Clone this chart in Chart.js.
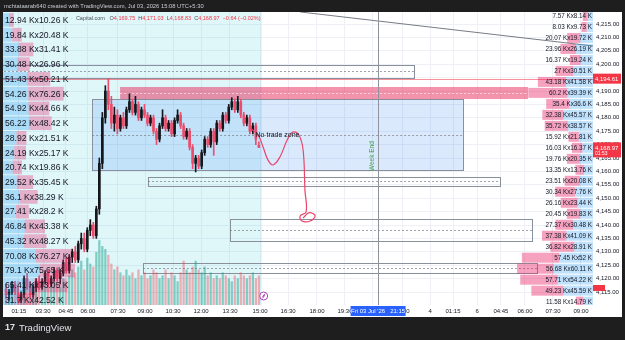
<!DOCTYPE html>
<html lang="en">
<head>
<meta charset="UTF-8">
<title>XAUUSD 5m - Capital.com</title>
<style>
  html, body { margin: 0; padding: 0; background: #1e1e1e; }
  canvas { display: block; }
</style>
</head>
<body>
<canvas id="myChart" width="625" height="340"></canvas>
<script src="https://cdn.jsdelivr.net/npm/chart.js"></script>
<script>
// ---- candles, one slot per candle on the x scale ----
const opens = [
  4116, 4114, 4115, 4118, 4115, 4112, 4114, 4120, 4117, 4114,
  4117, 4119, 4117, 4119, 4122, 4118, 4120, 4123, 4120, 4122,
  4126, 4123, 4128, 4130, 4127, 4133, 4135, 4131, 4138, 4140,
  4136, 4146, 4163, 4180, 4190, 4185, 4178, 4181, 4176, 4180,
  4177, 4183, 4186, 4182, 4185, 4180, 4183, 4181, 4178, 4180,
  4175, 4172, 4177, 4180, 4176, 4178, 4174, 4179, 4181, 4177,
  4173, 4175, 4169, 4163, 4165, 4162, 4167, 4172, 4170, 4175,
  4171, 4178, 4176, 4181, 4179, 4184, 4186, 4183, 4186, 4181,
  4178, 4180, 4175, 4177, 4169.75
];
const highs = [
  4118, 4116, 4119, 4119, 4117, 4115, 4121, 4122, 4119, 4118,
  4120, 4121, 4120, 4123, 4123, 4121, 4124, 4124, 4123, 4127,
  4128, 4129, 4131, 4132, 4134, 4137, 4137, 4139, 4142, 4141,
  4147, 4165, 4182, 4192, 4194.61, 4188, 4184, 4183, 4181, 4182,
  4184, 4189, 4187, 4188, 4186, 4184, 4185, 4182, 4181, 4181,
  4176, 4178, 4183, 4181, 4179, 4179, 4180, 4183, 4182, 4178,
  4176, 4176, 4170, 4166, 4166, 4168, 4173, 4173, 4176, 4176,
  4179, 4179, 4182, 4182, 4185, 4187.5, 4187, 4188, 4187, 4182,
  4181, 4181, 4178, 4178, 4171.03
];
const lows = [
  4113, 4112, 4114, 4114, 4111, 4111, 4113, 4116, 4113, 4113,
  4115, 4116, 4116, 4118, 4117, 4117, 4119, 4119, 4118, 4121,
  4122, 4122, 4126, 4126, 4126, 4131, 4130, 4130, 4136, 4135,
  4135, 4144, 4161, 4178, 4183, 4176, 4175, 4174, 4175, 4176,
  4176, 4182, 4181, 4181, 4179, 4179, 4180, 4177, 4177, 4174,
  4170, 4171, 4176, 4175, 4175, 4173, 4173, 4178, 4176, 4172,
  4172, 4168, 4161, 4159.8, 4161, 4161, 4166, 4169, 4169, 4166,
  4170, 4175, 4175, 4178, 4178, 4183, 4182, 4182, 4180, 4177,
  4177, 4174, 4174, 4170, 4168.83
];
const closes = [
  4114, 4115, 4118, 4115, 4112, 4114, 4120, 4117, 4114, 4117,
  4119, 4117, 4119, 4122, 4118, 4120, 4123, 4120, 4122, 4126,
  4123, 4128, 4130, 4127, 4133, 4135, 4131, 4138, 4140, 4136,
  4146, 4163, 4180, 4190, 4185, 4178, 4181, 4176, 4180, 4177,
  4183, 4186, 4182, 4185, 4180, 4183, 4181, 4178, 4180, 4175,
  4172, 4177, 4180, 4176, 4178, 4174, 4179, 4181, 4177, 4173,
  4175, 4169, 4163, 4165, 4162, 4167, 4172, 4170, 4175, 4171,
  4178, 4176, 4181, 4179, 4184, 4186, 4183, 4186, 4181, 4178,
  4180, 4175, 4177, 4172, 4168.97
];
const volumes = [
  6, 5, 7, 6, 8, 5, 9, 7, 6, 5,
  7, 6, 8, 7, 6, 9, 8, 7, 6, 9,
  8, 10, 12, 11, 13, 15, 12, 16, 14, 13,
  18, 22, 20, 19, 17, 14, 12, 13, 11, 10,
  12, 10, 11, 9, 12, 10, 11, 9, 10, 12,
  11, 9, 10, 12, 9, 11, 10, 8, 11, 15,
  12, 11, 13, 15, 12, 11, 13, 10, 11, 9,
  10, 9, 11, 10, 9, 8, 10, 9, 11, 10,
  9, 10, 11, 9, 10
];

// ---- axes ----
const timeTicks  = [5.3, 13.3, 20.9, 28.2, 38.2, 47.2, 56.5, 65.8, 75.4, 85.4, 94.7, 104.3, 113.6, 122.9, 132.6, 141.9, 149.5, 157.5, 165.4, 173.4, 182.7, 192.0];
const timeLabels = ['01:15', '03:30', '04:45', '06:00', '07:30', '09:00', '10:30', '12:00', '13:30', '15:00', '16:30', '18:00', '19:30', '21:00', '22:30', '4', '01:15', '6', '04:45', '06:00', '07:30', '09:00'];
const priceMin = 4110.15;
const priceMax = 4219.48;
const highPrice = 4194.61;
const lastPrice = 4168.97;

// ---- volume profiles (K) ----
const leftUp   = [12.94, 19.84, 33.88, 30.48, 51.43, 54.26, 54.92, 56.22, 28.92, 24.19, 20.74, 29.52, 36.1, 27.41, 46.84, 45.32, 70.08, 79.1, 65.41, 31.7];
const leftDown = [10.26, 20.48, 31.41, 26.96, 50.21, 76.26, 44.66, 48.42, 21.51, 25.17, 19.86, 35.45, 38.29, 28.2, 43.38, 48.27, 76.27, 75.65, 73.05, 42.52];
const leftTop = 4216.5, leftStep = 5.5;
const rightUp   = [7.57, 8.03, 20.07, 23.96, 16.37, 27, 43.18, 60.2, 35.4, 32.38, 35.72, 15.92, 16.03, 19.76, 13.35, 23.51, 30.34, 26.16, 20.45, 27.37, 37.38, 36.82, 57.45, 56.68, 57.71, 49.23, 11.58];
const rightDown = [8.14, 9.73, 19.72, 26.19, 19.24, 30.51, 41.58, 39.39, 36.6, 45.57, 38.57, 21.81, 16.37, 20.35, 13.76, 20.08, 27.76, 23.44, 19.83, 30.48, 41.09, 28.91, 52, 60.11, 54.22, 45.59, 14.79];
const rightTop = 4218.0, rightStep = 4.1;

// ---- drawings: [startSlot, endSlot, topPrice, bottomPrice] ----
const noTradeZone = [29.6, 152.8, 4187.0, 4160.5];
const supplyZone  = [38.9, 174.4, 4191.5, 4187.0];
const levelBoxes = [
  [-5, 136.5, 4199.7, 4194.9],
  [48.2, 165.1, 4157.9, 4154.6],
  [75.4, 175.7, 4142.2, 4134.0],
  [46.5, 177.4, 4125.8, 4122.1]
];
const trendX = [98.7, 196];
const trendY = [4219.5, 4206.8];
const pathX = [82.1, 84.7, 86.4, 88.0, 89.7, 92.0, 94.4, 96.3, 98.3, 99.7, 100.3, 100.7, 98.7, 99.3, 102.0, 103.7, 101.7, 99.7];
const pathY = [4176.2, 4173.6, 4169.1, 4164.3, 4162.4, 4165.4, 4171.7, 4174.7, 4173.6, 4168.0, 4153.1, 4144.9, 4143.4, 4141.5, 4141.5, 4143.4, 4144.6, 4142.6];
const sessionEndSlot = 86;
const weekEndSlot = 124.6;

const FONT = '"Liberation Sans", Arial, sans-serif';
const fmt = v => v.toLocaleString('en-US', { minimumFractionDigits: 2, maximumFractionDigits: 2 });

const slots = opens.map((_, i) => i + 1);
const candleColors = opens.map((o, i) => closes[i] >= o ? '#16171c' : '#ec4d6c');
const volumeColors = opens.map((o, i) => closes[i] >= o ? 'rgba(8,153,129,0.45)' : 'rgba(242,54,69,0.38)');

function drawBox(ctx, X, Y, b, fill, stroke) {
  const x1 = X(b[0]), x2 = X(b[1]), y1 = Y(b[2]), y2 = Y(b[3]);
  ctx.fillStyle = fill;
  ctx.fillRect(x1, y1, x2 - x1, y2 - y1);
  if (stroke) {
    ctx.strokeStyle = stroke;
    ctx.lineWidth = 1;
    ctx.strokeRect(Math.round(x1) + 0.5, Math.round(y1) + 0.5, Math.round(x2 - x1), Math.round(y2 - y1));
  }
  const ym = Math.round((y1 + y2) / 2) + 0.5;
  ctx.save();
  ctx.setLineDash([2, 2]);
  ctx.strokeStyle = stroke ? 'rgba(120,123,134,0.7)' : 'rgba(255,255,255,0.6)';
  ctx.beginPath(); ctx.moveTo(x1, ym); ctx.lineTo(x2, ym); ctx.stroke();
  ctx.restore();
}

const overlay = {
  id: 'overlay',
  beforeDraw(chart) {
    const ctx = chart.ctx;
    ctx.save();
    ctx.fillStyle = '#1e1e1e';
    ctx.fillRect(0, 0, chart.width, chart.height);
    ctx.fillStyle = '#ffffff';
    ctx.fillRect(3, 12, 619, 305);
    ctx.restore();
  },
  beforeDatasetsDraw(chart) {
    const { ctx, chartArea: a } = chart;
    const X = v => chart.scales.x.getPixelForValue(v);
    const Y = v => chart.scales.y.getPixelForValue(v);
    ctx.save();
    ctx.beginPath(); ctx.rect(a.left, a.top, a.right - a.left, a.bottom - a.top); ctx.clip();
    // session highlight
    ctx.fillStyle = 'rgba(0,188,212,0.12)';
    ctx.fillRect(a.left, a.top, X(sessionEndSlot) - a.left, a.bottom - a.top);
    drawBox(ctx, X, Y, noTradeZone, 'rgba(33,120,243,0.16)', '#8a8f9c');
    drawBox(ctx, X, Y, supplyZone, 'rgba(232,40,90,0.5)', null);
    levelBoxes.forEach(b => drawBox(ctx, X, Y, b, 'rgba(255,255,255,0)', '#8a8f9c'));
    ctx.restore();
  },
  afterDatasetsDraw(chart) {
    const { ctx, chartArea: a } = chart;
    const X = v => chart.scales.x.getPixelForValue(v);
    const Y = v => chart.scales.y.getPixelForValue(v);
    ctx.save();
    ctx.beginPath(); ctx.rect(a.left, a.top, a.right - a.left, a.bottom - a.top); ctx.clip();

    // high price line
    const yh = Math.round(Y(highPrice)) + 0.5;
    ctx.strokeStyle = 'rgba(242,54,69,0.55)';
    ctx.lineWidth = 1;
    ctx.beginPath(); ctx.moveTo(a.left, yh); ctx.lineTo(a.right, yh); ctx.stroke();

    // week end line + label
    const xw = Math.round(X(weekEndSlot)) + 0.5;
    ctx.strokeStyle = '#8f939e';
    ctx.beginPath(); ctx.moveTo(xw, a.top); ctx.lineTo(xw, a.bottom + 1); ctx.stroke();
    ctx.save();
    ctx.translate(xw - 3, Y(4165.7));
    ctx.rotate(-Math.PI / 2);
    ctx.fillStyle = '#43a047';
    ctx.font = '6.5px ' + FONT;
    ctx.textAlign = 'center'; ctx.textBaseline = 'bottom';
    ctx.fillText('Week End', 0, 0);
    ctx.restore();

    // no trade zone label
    ctx.fillStyle = '#131722';
    ctx.font = '7px ' + FONT;
    ctx.textAlign = 'center'; ctx.textBaseline = 'middle';
    ctx.fillText('No trade zone', X((noTradeZone[0] + noTradeZone[1]) / 2), Y((noTradeZone[2] + noTradeZone[3]) / 2) + 0.5);

    // left volume profile
    const rowL = Y(leftTop) - Y(leftTop + leftStep);
    const kL = 0.465;
    ctx.textAlign = 'left';
    leftUp.forEach((u, i) => {
      const yc = Y(leftTop - i * leftStep);
      const wu = u * kL, wd = leftDown[i] * kL;
      ctx.fillStyle = 'rgba(33,150,243,0.28)';
      ctx.fillRect(a.left, yc - rowL / 2 + 0.5, wu, rowL - 1);
      ctx.fillStyle = 'rgba(233,30,99,0.32)';
      ctx.fillRect(a.left + wu, yc - rowL / 2 + 0.5, wd, rowL - 1);
    });
    ctx.fillStyle = '#131722';
    ctx.font = '8.6px ' + FONT;
    leftUp.forEach((u, i) => {
      ctx.fillText(u + ' Kx' + leftDown[i] + ' K', a.left + 2, Y(leftTop - i * leftStep) + 0.5);
    });

    // right volume profile
    const rowR = Y(rightTop) - Y(rightTop + rightStep);
    const kR = 0.65;
    rightUp.forEach((u, i) => {
      const yc = Y(rightTop - i * rightStep);
      const wd = rightDown[i] * kR, wu = u * kR;
      ctx.fillStyle = 'rgba(33,150,243,0.28)';
      ctx.fillRect(a.right - wd, yc - rowR / 2 + 0.5, wd, rowR - 1);
      ctx.fillStyle = 'rgba(233,30,99,0.42)';
      ctx.fillRect(a.right - wd - wu, yc - rowR / 2 + 0.5, wu, rowR - 1);
    });
    ctx.fillStyle = '#131722';
    ctx.font = '6.3px ' + FONT;
    ctx.textAlign = 'right';
    rightUp.forEach((u, i) => {
      ctx.fillText(u + ' Kx' + rightDown[i] + ' K', a.right - 1, Y(rightTop - i * rightStep) + 0.5);
    });

    // event icon under the last candle
    ctx.strokeStyle = '#ab47bc';
    ctx.fillStyle = '#ffffff';
    ctx.lineWidth = 1;
    ctx.beginPath(); ctx.arc(X(86.6), a.bottom - 9, 4, 0, Math.PI * 2); ctx.fill(); ctx.stroke();
    ctx.beginPath(); ctx.moveTo(X(86.6) + 1.5, a.bottom - 11.5); ctx.lineTo(X(86.6) - 1, a.bottom - 8.5);
    ctx.lineTo(X(86.6) + 1, a.bottom - 9.5); ctx.lineTo(X(86.6) - 1.5, a.bottom - 6.5); ctx.stroke();
    ctx.restore();
  },
  afterDraw(chart) {
    const { ctx, chartArea: a } = chart;
    const X = v => chart.scales.x.getPixelForValue(v);
    const Y = v => chart.scales.y.getPixelForValue(v);
    ctx.save();
    ctx.textBaseline = 'middle';

    // price labels on the axis
    ctx.fillStyle = '#f23645';
    ctx.fillRect(a.right, Y(highPrice) - 5, 28, 10);
    ctx.fillRect(a.right, Y(lastPrice) - 5, 28, 15);
    ctx.fillRect(a.right, Y(4116.5) - 3, 12, 6);
    ctx.fillStyle = '#ffffff';
    ctx.font = '6px ' + FONT;
    ctx.textAlign = 'left';
    ctx.fillText(fmt(highPrice), a.right + 2, Y(highPrice) + 0.5);
    ctx.fillText(fmt(lastPrice), a.right + 2, Y(lastPrice) + 0.5);
    ctx.font = '5px ' + FONT;
    ctx.fillText('01:53', a.right + 2, Y(lastPrice) + 6.5);

    // crosshair time label
    const xw = X(weekEndSlot);
    ctx.fillStyle = '#2962ff';
    ctx.fillRect(xw - 27.5, a.bottom + 1, 55, 10);
    ctx.fillStyle = '#ffffff';
    ctx.font = '6px ' + FONT;
    ctx.textAlign = 'center';
    ctx.fillText("Fri 03 Jul '26   21:15", xw, a.bottom + 6.5);

    // header
    ctx.textAlign = 'left';
    ctx.fillStyle = '#c9ccd4';
    ctx.font = '5.8px ' + FONT;
    ctx.fillText('mchtataarab640 created with TradingView.com, Jul 03, 2026 15:08 UTC+5:30', 4, 6);

    // legend
    let lx = 71;
    const ly = 18;
    ctx.font = '5.5px ' + FONT;
    const part = (t, c) => { ctx.fillStyle = c; ctx.fillText(t, lx, ly); lx += ctx.measureText(t).width; };
    part('·  Capital.com   ', '#4a4e59');
    part('O', '#4a4e59'); part('4,169.75  ', '#f23645');
    part('H', '#4a4e59'); part('4,171.03  ', '#f23645');
    part('L', '#4a4e59'); part('4,168.83  ', '#f23645');
    part('C', '#4a4e59'); part('4,168.97  ', '#f23645');
    part('\u22120.64 (\u22120.02%)', '#f23645');

    // footer logo
    ctx.fillStyle = '#e0e3eb';
    ctx.font = 'bold 9px ' + FONT;
    ctx.fillText('17', 5, 328);
    ctx.font = '9.5px ' + FONT;
    ctx.fillText('TradingView', 19, 328);
    ctx.restore();
  }
};

Chart.defaults.font.family = FONT;

const ctx = document.getElementById('myChart').getContext('2d');
const myChart = new Chart(ctx, {
  type: 'bar',
  data: {
    datasets: [
      {
        type: 'line', label: 'trend',
        data: trendX.map((x, i) => ({ x, y: trendY[i] })),
        borderColor: '#787b86', borderWidth: 1, pointRadius: 0, order: 0
      },
      {
        type: 'line', label: 'path',
        data: pathX.map((x, i) => ({ x, y: pathY[i] })),
        borderColor: '#e8466a', borderWidth: 1.2, pointRadius: 0, tension: 0.4, order: 0
      },
      {
        label: 'bodies',
        data: slots.map((x, i) => ({ x, y: [opens[i], closes[i]] })),
        backgroundColor: candleColors, barThickness: 2, minBarLength: 1, grouped: false, order: 1
      },
      {
        label: 'wicks',
        data: slots.map((x, i) => ({ x, y: [lows[i], highs[i]] })),
        backgroundColor: candleColors, barThickness: 1, grouped: false, order: 2
      },
      {
        label: 'volume', yAxisID: 'yv',
        data: slots.map((x, i) => ({ x, y: volumes[i] })),
        backgroundColor: volumeColors, barThickness: 1.6, grouped: false, order: 3
      }
    ]
  },
  options: {
    responsive: false,
    devicePixelRatio: 1,
    animation: false,
    layout: { padding: { left: 3, top: 12, right: 3, bottom: 23 } },
    plugins: { legend: { display: false }, tooltip: { enabled: false } },
    scales: {
      x: {
        type: 'linear', min: 0, max: 196, offset: false,
        afterBuildTicks: s => { s.ticks = timeTicks.map(v => ({ value: v })); },
        afterFit: s => { s.height = 12; s.paddingLeft = 0; s.paddingRight = 0; },
        grid: { color: '#eef0f5', drawTicks: false, offset: false },
        border: { display: false },
        ticks: {
          autoSkip: false, maxRotation: 0, padding: 3, color: '#131722',
          font: { size: 6 },
          callback: (v, i) => timeLabels[i]
        }
      },
      y: {
        position: 'right', min: priceMin, max: priceMax,
        afterFit: s => { s.width = 29; s.paddingTop = 0; s.paddingBottom = 0; },
        grid: { color: '#eef0f5', drawTicks: false },
        border: { display: false },
        ticks: {
          stepSize: 5, includeBounds: false, maxTicksLimit: 40, padding: 3,
          color: '#131722', font: { size: 6 },
          callback: v => fmt(v)
        }
      },
      yv: { display: false, min: 0, max: 100 }
    }
  },
  plugins: [overlay]
});
</script>
</body>
</html>
